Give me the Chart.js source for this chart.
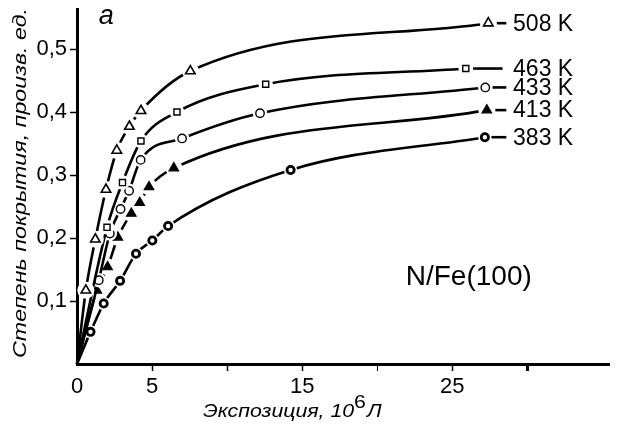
<!DOCTYPE html>
<html>
<head>
<meta charset="utf-8">
<script src="https://cdn.jsdelivr.net/npm/chart.js@4/dist/chart.umd.min.js"></script>
<style>
  html, body { margin: 0; padding: 0; background: #fff; }
  canvas { display: block; }
</style>
</head>
<body>
<canvas id="coverage" width="617" height="429"></canvas>
<script>
// exposure (10^6 L) vs coverage for each temperature; first pair is the origin
const x508 = [0, 0.59, 1.22, 1.93, 2.65, 3.49, 4.26, 7.55, 27.4];
const y508 = [0, 0.117, 0.198, 0.277, 0.339, 0.377, 0.402, 0.465, 0.541];
const x463 = [0, 2.0, 3.03, 4.26, 6.66, 12.57, 25.9];
const y463 = [0, 0.217, 0.288, 0.354, 0.400, 0.444, 0.469];
const x433 = [0, 1.45, 2.19, 2.9, 3.47, 4.24, 7.0, 12.19, 27.2];
const y433 = [0, 0.133, 0.207, 0.246, 0.275, 0.324, 0.358, 0.398, 0.439];
const x413 = [0, 1.32, 2.04, 2.72, 3.62, 4.18, 4.8, 6.45, 27.3];
const y413 = [0, 0.117, 0.154, 0.201, 0.239, 0.256, 0.281, 0.311, 0.403];
const x383 = [0, 0.9, 1.78, 2.87, 3.93, 5.02, 6.07, 14.23, 27.17];
const y383 = [0, 0.051, 0.096, 0.132, 0.175, 0.196, 0.219, 0.308, 0.360];

const temps = ['508 K', '463 K', '433 K', '413 K', '383 K'];
const xTickValues = [0, 5, 10, 15, 20, 25, 30];
const xTickLabels = ['0', '5', '', '15', '', '25', ''];
const yTickValues = [0.1, 0.2, 0.3, 0.4, 0.5];

const FONT = "'Liberation Sans', Arial, sans-serif";

const pairs = (xs, ys) => xs.map((x, i) => ({ x, y: ys[i] }));

function series(label, xs, ys, style, r, fill, bw) {
    return {
        label, data: pairs(xs, ys),
        borderColor: '#000', borderWidth: 2.6,
        cubicInterpolationMode: 'monotone',
        pointStyle: style,
        pointRadius: c => (c.raw && c.raw.x === 0 ? 0 : r),
        pointBackgroundColor: fill,
        pointBorderColor: '#000',
        pointBorderWidth: bw,
        clip: false
    };
}

// white halo round every marker so the curve breaks there
const markerGap = {
    id: 'markerGap',
    afterDatasetDraw(chart, args) {
        const ctx = chart.ctx;
        const pts = args.meta.data.filter(p => p.options.radius > 0);
        ctx.save();
        ctx.fillStyle = '#fff';
        pts.forEach(p => {
            ctx.beginPath();
            ctx.arc(p.x, p.y, p.options.radius + 3, 0, Math.PI * 2);
            ctx.fill();
        });
        ctx.restore();
        pts.forEach(p => p.draw(ctx, chart.chartArea));
    }
};

// text drawn a little wider than the font's own proportions
function wideText(ctx, text, x, y, stretch) {
    ctx.save();
    ctx.translate(x, y);
    ctx.scale(stretch, 1);
    ctx.fillText(text, 0, 0);
    const w = ctx.measureText(text).width * stretch;
    ctx.restore();
    return w;
}

// temperature tags, axis titles and panel notes
const annotations = {
    id: 'annotations',
    afterDraw(chart) {
        const { ctx, scales: { x, y } } = chart;
        ctx.save();
        ctx.fillStyle = '#000';
        ctx.strokeStyle = '#000';
        chart.data.datasets.forEach((ds, i) => {
            const meta = chart.getDatasetMeta(i);
            const last = meta.data[meta.data.length - 1];
            ctx.lineWidth = 2.6;
            ctx.beginPath();
            ctx.moveTo(last.x + last.options.radius + 3, last.y);
            ctx.lineTo(x.getPixelForValue(i === 1 ? 28.35 : 28.6), last.y);
            ctx.stroke();
            ctx.font = `23px ${FONT}`;
            ctx.textBaseline = 'middle';
            ctx.textAlign = 'left';
            ctx.fillText(temps[i], x.getPixelForValue(29.05), last.y + 1);
        });

        ctx.textBaseline = 'alphabetic';
        ctx.font = `28px ${FONT}`;
        ctx.fillText('N/Fe(100)', x.getPixelForValue(21.9), y.getPixelForValue(0.125));
        ctx.font = `italic 27px ${FONT}`;
        ctx.fillText('а', x.getPixelForValue(1.45), y.getPixelForValue(0.54));

        // x title with superscript power
        const base = 417;
        let px = 203;
        ctx.font = `italic 19px ${FONT}`;
        px += wideText(ctx, 'Экспозиция, 10', px, base, 1.12);
        ctx.font = `19px ${FONT}`;
        px += wideText(ctx, '6', px, base - 9, 1.12) + 1;
        ctx.font = `italic 19px ${FONT}`;
        wideText(ctx, 'Л', px, base, 1.12);

        // y title
        ctx.translate(26, 183);
        ctx.rotate(-Math.PI / 2);
        ctx.font = `italic 19px ${FONT}`;
        const full = 'Степень покрытия, произв. ед.';
        const s = 350 / ctx.measureText(full).width;
        ctx.scale(s, 1);
        ctx.textAlign = 'center';
        ctx.fillText(full, 0, 0);
        ctx.restore();
    }
};

new Chart(document.getElementById('coverage'), {
    type: 'line',
    data: {
        datasets: [
            series(temps[0], x508, y508, 'triangle', 5.5, '#fff', 1.6),
            series(temps[1], x463, y463, 'rect', 4.3, '#fff', 1.4),
            series(temps[2], x433, y433, 'circle', 4.2, '#fff', 1.4),
            series(temps[3], x413, y413, 'triangle', 5.5, '#000', 1.2),
            series(temps[4], x383, y383, 'circle', 3.6, '#fff', 2.8)
        ]
    },
    options: {
        responsive: false,
        animation: false,
        devicePixelRatio: 1,
        layout: { padding: { top: 9, right: 0, left: 0, bottom: 0 } },
        plugins: { legend: { display: false }, tooltip: { enabled: false } },
        scales: {
            x: {
                type: 'linear', min: 0, max: 35.5,
                afterBuildTicks: s => { s.ticks = xTickValues.map(value => ({ value })); },
                afterFit: s => { s.height = 65; s.paddingLeft = 0; s.paddingRight = 0; },
                ticks: {
                    color: '#000', font: { family: FONT, size: 22 }, padding: 3, maxRotation: 0,
                    callback: (v, i) => xTickLabels[i]
                },
                grid: {
                    drawOnChartArea: false, tickLength: 7, tickColor: '#000',
                    tickWidth: c => (c.tick && c.tick.value === 0 ? 0 : c.tick && c.tick.value === 30 ? 3 : c.tick && c.tick.value === 20 ? 1 : 1.5)
                },
                border: { color: '#000', width: 3 }
            },
            y: {
                type: 'linear', min: 0, max: 0.5635,
                afterBuildTicks: s => { s.ticks = yTickValues.map(value => ({ value })); },
                afterFit: s => { s.width = 77; s.paddingTop = 0; s.paddingBottom = 0; },
                ticks: {
                    color: '#000', font: { family: FONT, size: 22 }, padding: 3,
                    callback: v => v.toFixed(1).replace('.', ',')
                },
                grid: { drawOnChartArea: false, tickLength: 7, tickColor: '#000', tickWidth: 1.5 },
                border: { color: '#000', width: 3 }
            }
        }
    },
    plugins: [markerGap, annotations]
});
</script>
</body>
</html>
